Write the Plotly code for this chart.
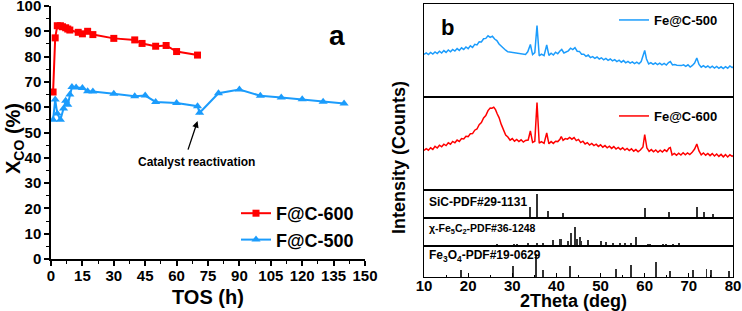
import plotly.graph_objects as go

# ---------------- Panel a data ----------------
tos_600 = [1, 2, 3, 4.5, 5.5, 7, 8, 9, 13, 15, 17.5, 20, 30, 40, 43.5, 50, 55, 60, 70]
xco_600 = [66, 87.4, 92.2, 92.2, 91.8, 91.4, 90.9, 90.5, 89.6, 89.0, 90.0, 88.7, 87.2, 86.6, 85.2, 84.1, 84.4, 82.0, 80.6]

tos_500 = [1, 2, 3, 4.5, 6, 7, 8, 9, 10, 12, 15, 17.5, 20, 30, 40, 45, 50, 60, 70, 71, 80, 90, 100, 110, 120, 130, 140]
xco_500 = [55, 63, 57.5, 55, 59.5, 62.5, 61, 65, 68, 67.8, 67.6, 66.3, 66.2, 65.3, 64.3, 64.6, 62.1, 61.7, 60.4, 57.8,
           65.5, 67, 64.5, 63.8, 63.1, 62.2, 61.5]

tos_ticks = [0, 15, 30, 45, 60, 75, 90, 105, 120, 135, 150]

# ---------------- Panel b data ----------------
tt_500 = [10.0, 10.5, 11.0, 11.5, 12.0, 12.5, 13.0, 13.5, 14.0, 14.5, 15.0, 15.5, 16.0, 16.5, 17.0, 17.5, 18.0, 18.5,
          19.0, 19.5, 20.0, 20.5, 21.0, 21.5, 22.0, 22.5, 23.0, 23.5, 24.0, 24.5, 25.0, 25.5, 26.0, 26.5, 27.0, 27.5,
          28.0, 28.5, 29.0, 29.5, 30.0, 30.5, 31.0, 31.5, 32.0, 32.5, 33.0, 33.5, 34.1, 34.6, 35.1, 35.6, 36.1, 36.6,
          37.2, 37.8, 38.3, 38.8, 39.3, 39.8, 40.3, 40.8, 41.2, 41.7, 42.2, 42.7, 43.2, 43.7, 44.2, 44.7, 45.2, 45.7,
          46.2, 46.7, 47.2, 47.7, 48.2, 48.7, 49.2, 49.7, 50.2, 50.7, 51.2, 51.7, 52.2, 52.7, 53.2, 53.7, 54.2, 54.7,
          55.2, 55.7, 56.2, 56.7, 57.2, 57.7, 58.2, 58.7, 59.2, 59.7, 60.0, 60.4, 60.9, 61.4, 61.9, 62.4, 62.9, 63.4,
          63.9, 64.4, 64.9, 65.4, 65.8, 66.3, 66.8, 67.3, 67.8, 68.3, 68.8, 69.3, 69.8, 70.3, 70.8, 71.3, 71.8, 72.3,
          72.8, 73.3, 73.8, 74.3, 74.8, 75.3, 75.8, 76.3, 76.8, 77.3, 77.8, 78.3, 78.8, 79.3, 79.8, 80.0]
int_500 = [425, 440, 424, 446, 430, 450, 434, 458, 440, 464, 446, 470, 452, 476, 460, 484, 466, 492, 476, 500, 484,
           512, 496, 526, 520, 552, 550, 582, 586, 612, 596, 608, 580, 564, 530, 510, 480, 468, 452, 448, 444, 440,
           436, 434, 430, 428, 426, 452, 525, 424, 444, 715, 412, 428, 414, 520, 416, 438, 420, 448, 432, 460, 475,
           440, 454, 462, 488, 474, 494, 458, 456, 428, 428, 406, 420, 394, 404, 386, 400, 380, 392, 372, 386, 366,
           380, 362, 374, 354, 368, 348, 364, 342, 356, 338, 352, 334, 348, 332, 354, 430, 465, 380, 330, 344, 326,
           340, 324, 338, 322, 336, 320, 345, 355, 320, 324, 318, 318, 314, 322, 306, 322, 300, 316, 340, 390, 325,
           298, 314, 296, 310, 292, 308, 290, 306, 286, 302, 284, 304, 288, 310, 294, 302]

tt_600 = [10.0, 10.5, 11.0, 11.5, 12.0, 12.5, 13.0, 13.5, 14.0, 14.5, 15.0, 15.5, 16.0, 16.5, 17.0, 17.5, 18.0, 18.5,
          19.0, 19.5, 20.0, 20.5, 21.0, 21.5, 22.0, 22.5, 23.0, 23.5, 24.0, 24.5, 25.0, 25.4, 25.8, 26.2, 26.6, 27.0,
          27.5, 28.0, 28.5, 29.0, 29.5, 30.0, 30.5, 31.0, 31.5, 32.0, 32.5, 33.0, 33.6, 34.1, 34.6, 35.1, 35.6, 36.1,
          36.6, 37.2, 37.8, 38.3, 38.8, 39.3, 39.8, 40.3, 40.8, 41.1, 41.5, 42.0, 42.5, 43.0, 43.5, 44.0, 44.5, 45.0,
          45.5, 46.0, 46.5, 47.0, 47.5, 48.0, 48.5, 49.0, 49.5, 50.0, 50.5, 51.0, 51.5, 52.0, 52.5, 53.0, 53.5, 54.0,
          54.5, 55.0, 55.5, 56.0, 56.5, 57.0, 57.5, 58.0, 58.5, 59.0, 59.6, 60.0, 60.5, 61.0, 61.5, 62.0, 62.5, 63.0,
          63.5, 64.0, 64.5, 65.0, 65.5, 65.8, 66.2, 66.7, 67.2, 67.7, 68.2, 68.7, 69.2, 69.7, 70.2, 70.7, 71.3, 71.8,
          72.3, 72.8, 73.3, 73.8, 74.3, 74.8, 75.3, 75.8, 76.3, 76.8, 77.3, 77.8, 78.3, 78.8, 79.3, 79.8, 80.0]
int_600 = [395, 414, 398, 422, 406, 436, 420, 448, 432, 458, 444, 472, 458, 486, 472, 500, 486, 514, 510, 538, 534,
           562, 564, 598, 610, 654, 674, 720, 744, 794, 820, 818, 828, 804, 760, 724, 656, 604, 550, 530, 498, 514,
           488, 506, 484, 502, 480, 496, 500, 590, 476, 488, 875, 468, 484, 466, 570, 462, 484, 466, 488, 484, 508,
           535, 496, 514, 508, 526, 508, 524, 494, 506, 474, 488, 460, 474, 450, 466, 444, 458, 436, 452, 428, 444,
           422, 438, 416, 434, 410, 426, 404, 422, 400, 416, 394, 412, 388, 404, 382, 400, 430, 555, 420, 386, 404,
           382, 400, 378, 398, 380, 402, 386, 420, 425, 350, 366, 348, 368, 350, 372, 352, 370, 354, 374, 410, 460,
           390, 352, 370, 348, 366, 344, 364, 340, 360, 336, 356, 332, 354, 330, 352, 336, 344]

sic_pos = [34.1, 35.6, 38.1, 41.4, 60.0, 65.6, 71.8, 73.5, 75.5]
sic_int = [44, 100, 28, 21, 42, 24, 46, 23, 17]

fe5c2_pos = [26.6, 30.3, 31.1, 33.6, 35.7, 37.0, 39.2, 40.7, 41.1, 42.6, 43.4, 44.1, 44.7, 45.3, 45.6, 47.1, 50.2,
             51.3, 52.8, 54.3, 55.5, 57.0, 58.1, 60.7, 61.3, 64.1, 64.9, 66.4, 67.7]
fe5c2_int = [9, 12, 12, 18, 18, 18, 30, 39, 35, 25, 70, 100, 39, 47, 26, 30, 25, 21, 18, 16, 16, 18, 47, 9, 12, 9,
             12, 12, 18]

fe3o4_pos = [18.3, 30.1, 35.4, 37.05, 43.1, 53.4, 57.0, 62.6, 65.7, 71.0, 74.0, 75.0, 79.0]
fe3o4_int = [31, 47, 100, 31, 46, 36, 50, 64, 26, 29, 36, 29, 26]

xrd_ticks = [10, 20, 30, 40, 50, 60, 70, 80]

# ---------------- Styling ----------------
RED = "#FF0000"
BLUE = "#1B9CFC"
FONT = "Arial, Liberation Sans, sans-serif"
W, H = 742, 311


def px_x(p):
    return p / W


def px_y(p):
    return 1 - p / H


fig = go.Figure()

# Panel a traces
fig.add_trace(go.Scatter(x=tos_600, y=xco_600, mode="lines+markers", name="F@C-600",
                         line=dict(color=RED, width=2),
                         marker=dict(symbol="square", size=7, color=RED),
                         xaxis="x", yaxis="y", legend="legend"))
fig.add_trace(go.Scatter(x=tos_500, y=xco_500, mode="lines+markers", name="F@C-500",
                         line=dict(color=BLUE, width=2),
                         marker=dict(symbol="triangle-up", size=8, color=BLUE),
                         xaxis="x", yaxis="y", legend="legend"))

# Panel b traces
fig.add_trace(go.Scatter(x=tt_500, y=int_500, mode="lines", name="Fe@C-500",
                         line=dict(color=BLUE, width=1.5), xaxis="x2", yaxis="y2", legend="legend2"))
fig.add_trace(go.Scatter(x=tt_600, y=int_600, mode="lines", name="Fe@C-600",
                         line=dict(color=RED, width=1.5), xaxis="x3", yaxis="y3", legend="legend3"))

for pos, inten, xa, ya in [(sic_pos, sic_int, "x4", "y4"),
                           (fe5c2_pos, fe5c2_int, "x5", "y5"),
                           (fe3o4_pos, fe3o4_int, "x6", "y6")]:
    fig.add_trace(go.Bar(x=pos, y=inten, width=0.22, marker=dict(color="#333333", line=dict(width=0)),
                         showlegend=False, xaxis=xa, yaxis=ya))

tickfont = dict(family=FONT, size=15, color="black", weight="bold")

layout = dict(
    template="none",
    width=W, height=H,
    autosize=False,
    margin=dict(l=0, r=0, t=0, b=0, autoexpand=False),
    paper_bgcolor="white", plot_bgcolor="white",
    showlegend=True,
    xaxis=dict(domain=[px_x(51), px_x(365)], range=[0, 150], tickvals=tos_ticks, automargin=False,
               ticklabeloverflow="allow", ticklabelstandoff=-3,
               showline=True, linecolor="black", linewidth=1.5, ticks="outside", ticklen=5,
               tickwidth=1.5, tickcolor="black", minor=dict(dtick=7.5, ticks="outside", ticklen=3,
                                                            tickcolor="black", tickwidth=1),
               showgrid=False, zeroline=False, tickfont=tickfont, anchor="y"),
    yaxis=dict(domain=[px_y(259), px_y(6)], range=[0, 100], dtick=10, tick0=0, automargin=False,
               ticklabeloverflow="allow",
               showline=True, linecolor="black", linewidth=1.5, ticks="outside", ticklen=5,
               tickwidth=1.5, tickcolor="black", minor=dict(dtick=5, ticks="outside", ticklen=3,
                                                            tickcolor="black", tickwidth=1),
               showgrid=False, zeroline=False, tickfont=tickfont, anchor="x"),
    bargap=0,
)

ydoms = {
    2: (4, 97, [0, 930]),
    3: (97, 190, [0, 930]),
    4: (190, 218, [0, 116]),
    5: (218, 246, [0, 147]),
    6: (246, 277, [0, 133]),
}
for k, (top, bot, rng) in ydoms.items():
    bottom = (k == 6)
    xa = dict(domain=[px_x(424), px_x(733)], range=[10, 80], anchor=f"y{k}", automargin=False,
              ticklabeloverflow="allow",
              showline=True, mirror=True, linecolor="black", linewidth=1.2,
              showgrid=False, zeroline=False, showticklabels=bottom,
              ticks="inside" if bottom else "",
              ticklen=4, tickwidth=1.2, tickcolor="black", tickfont=tickfont)
    if bottom:
        xa["tickvals"] = xrd_ticks
        xa["ticklabelstandoff"] = -5
        xa["minor"] = dict(dtick=5, ticks="inside", ticklen=2, tickcolor="black")
    layout[f"xaxis{k}"] = xa
    layout[f"yaxis{k}"] = dict(domain=[px_y(bot), px_y(top)], range=rng, anchor=f"x{k}", automargin=False,
                               showline=True, mirror=True, linecolor="black", linewidth=1.2,
                               showgrid=False, zeroline=False, showticklabels=False, ticks="")

layout["legend"] = dict(x=px_x(236), y=px_y(195), xanchor="left", yanchor="top", bgcolor="rgba(0,0,0,0)",
                        font=dict(family=FONT, size=18, color="black", weight="bold"), tracegroupgap=0)
layout["legend2"] = dict(x=px_x(614), y=px_y(5), xanchor="left", yanchor="top", bgcolor="rgba(0,0,0,0)",
                         font=dict(family=FONT, size=13, color="black", weight="bold"))
layout["legend3"] = dict(x=px_x(614), y=px_y(101), xanchor="left", yanchor="top", bgcolor="rgba(0,0,0,0)",
                         font=dict(family=FONT, size=13, color="black", weight="bold"))

fig.update_layout(**layout)


def txt(text, x, y, size, xanchor="center", angle=0, yanchor="middle"):
    fig.add_annotation(text=text, x=px_x(x), y=px_y(y), xref="paper", yref="paper", showarrow=False,
                       xanchor=xanchor, yanchor=yanchor, textangle=angle,
                       font=dict(family=FONT, size=size, color="black", weight="bold"))


txt("a", 337, 36, 28)
txt("b", 447, 28, 22)
txt("X<sub>CO</sub> (%)", 14, 139, 20, angle=-90)
txt("TOS (h)", 208, 297, 20)
txt("Intensity (Counts)", 399, 158, 18, angle=-90)
txt("2Theta (deg)", 573, 301, 18)
txt("Catalyst reactivation", 196, 162, 12)
txt("SiC-PDF#29-1131", 427, 202, 12, xanchor="left")
txt("χ-Fe<sub>5</sub>C<sub>2</sub>-PDF#36-1248", 427, 229, 10.5, xanchor="left")
txt("Fe<sub>3</sub>O<sub>4</sub>-PDF#19-0629", 427, 256, 12, xanchor="left")

fig.add_annotation(x=70, y=54.5, xref="x", yref="y", text="", showarrow=True, ax=-10, ay=30,
                   arrowhead=2, arrowsize=1, arrowwidth=1.3, arrowcolor="black")

fig.write_html("out.html", config={"displayModeBar": False},
               post_script="document.body.style.margin='0';document.body.style.overflow='hidden';")
